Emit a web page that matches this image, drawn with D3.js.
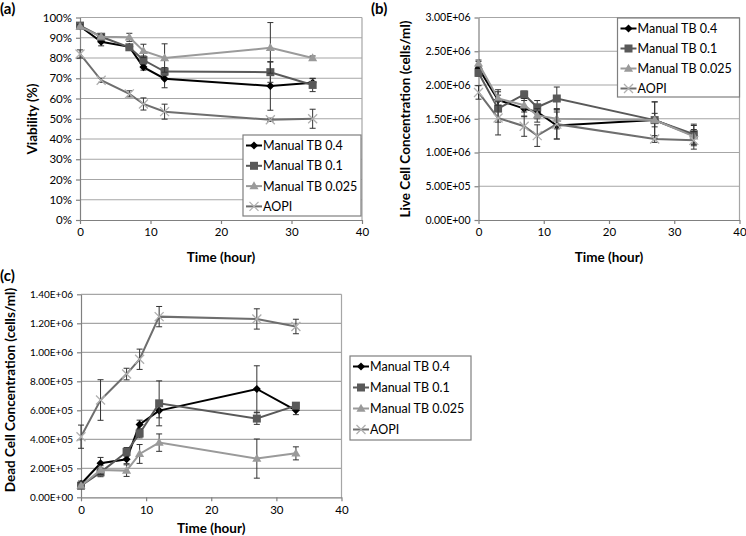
<!DOCTYPE html>
<html><head><meta charset="utf-8">
<script src="https://cdn.jsdelivr.net/npm/d3@7"></script>
<style>body{margin:0;background:#fff}svg text{font-family:Lato,"Liberation Sans",sans-serif}</style>
</head><body><svg id="c" width="746" height="536"></svg>
<script>
const times = [0, 3, 7, 9, 12, 27, 33];
const seriesNames = ["Manual TB 0.4", "Manual TB 0.1", "Manual TB 0.025", "AOPI"];

// (a) viability %
const viabTB04 = [95.7, 88, 85.5, 75.5, 69.8, 66.2, 67.8];
const viabTB01 = [96, 90.5, 85.3, 79, 73.3, 73, 66.7];
const viabTB0025 = [95.5, 90.5, 90.2, 83.5, 80, 85, 80];
const viabAOPI = [82, 69, 62.3, 57.3, 53.5, 49.5, 50];
const viabErrTB04 = [1, 2, 1, 1.5, 4.5, 12, 2];
const viabErrTB01 = [1, 1, 1, 2, 2, 5, 3.3];
const viabErrTB0025 = [1, 1, 2, 3.3, 7, 12.5, 1];
const viabErrAOPI = [2, 1, 1.5, 3, 3.7, 0.8, 4.7];

// (b) live cell concentration
const liveTB04 = [2.25e6, 1.78e6, 1.65e6, 1.6e6, 1.4e6, 1.48e6, 1.25e6];
const liveTB01 = [2.18e6, 1.65e6, 1.86e6, 1.67e6, 1.8e6, 1.48e6, 1.27e6];
const liveTB0025 = [2.32e6, 1.8e6, 1.7e6, 1.55e6, 1.5e6, 1.48e6, 1.24e6];
const liveAOPI = [1.89e6, 1.51e6, 1.39e6, 1.25e6, 1.42e6, 1.2e6, 1.18e6];
const liveErrTB04 = [0.1e6, 0.15e6, 0.12e6, 0.1e6, 0.2e6, 0.27e6, 0.15e6];
const liveErrTB01 = [0.05e6, 0.2e6, 0.05e6, 0.1e6, 0.17e6, 0.27e6, 0.15e6];
const liveErrTB0025 = [0.05e6, 0.1e6, 0.1e6, 0.1e6, 0.15e6, 0.1e6, 0.1e6];
const liveErrAOPI = [0.1e6, 0.25e6, 0.15e6, 0.16e6, 0.22e6, 0.05e6, 0.13e6];

// (c) dead cell concentration
const deadTB04 = [0.092e6, 0.235e6, 0.262e6, 0.502e6, 0.598e6, 0.747e6, 0.6e6];
const deadTB01 = [0.08e6, 0.172e6, 0.313e6, 0.44e6, 0.648e6, 0.543e6, 0.632e6];
const deadTB0025 = [0.08e6, 0.188e6, 0.184e6, 0.299e6, 0.377e6, 0.267e6, 0.303e6];
const deadAOPI = [0.418e6, 0.671e6, 0.85e6, 0.952e6, 1.246e6, 1.23e6, 1.178e6];
const deadErrTB04 = [0.02e6, 0.04e6, 0.03e6, 0.03e6, 0.05e6, 0.16e6, 0.03e6];
const deadErrTB01 = [0.02e6, 0.03e6, 0.03e6, 0.03e6, 0.155e6, 0.04e6, 0.02e6];
const deadErrTB0025 = [0.02e6, 0.03e6, 0.04e6, 0.065e6, 0.06e6, 0.135e6, 0.045e6];
const deadErrAOPI = [0.08e6, 0.14e6, 0.04e6, 0.07e6, 0.07e6, 0.07e6, 0.05e6];

const xTicks = [0, 10, 20, 30, 40];
const viabTicks = [0,10,20,30,40,50,60,70,80,90,100];
const liveTicks = [0, 0.5e6, 1e6, 1.5e6, 2e6, 2.5e6, 3e6];
const deadTicks = [0, 0.2e6, 0.4e6, 0.6e6, 0.8e6, 1e6, 1.2e6, 1.4e6];

const styles = [
  {line:"#000000", marker:"diamond", fill:"#000000"},
  {line:"#595959", marker:"square", fill:"#595959"},
  {line:"#9a9a9a", marker:"triangle", fill:"#9a9a9a"},
  {line:"#6e6e6e", marker:"cross", fill:"#b0b0b0"}
];

const svg = d3.select("#c");

function expFmt(v){
  if (v === 0) return "0.00E+00";
  const e = Math.floor(Math.log10(v));
  const m = v / Math.pow(10, e);
  return m.toFixed(2) + "E+" + String(e).padStart(2, "0");
}

function marker(g, type, x, y, fill){
  if (type === "diamond") {
    g.append("path").attr("d", d3.symbol(d3.symbolDiamond2, 42)()).attr("transform",`translate(${x},${y})`).attr("fill",fill);
  } else if (type === "square") {
    g.append("rect").attr("x",x-4).attr("y",y-4).attr("width",8).attr("height",8).attr("fill",fill);
  } else if (type === "triangle") {
    g.append("path").attr("d", d3.symbol(d3.symbolTriangle, 36)()).attr("transform",`translate(${x},${y+0.5})`).attr("fill",fill);
  } else {
    g.append("path").attr("d",`M${x-4.5},${y-4.5}L${x+4.5},${y+4.5}M${x-4.5},${y+4.5}L${x+4.5},${y-4.5}`).attr("stroke",fill).attr("stroke-width",1.3);
  }
}

function panel(cfg){
  const g = svg.append("g");
  const x = d3.scaleLinear().domain([0,40]).range([cfg.left, cfg.right]);
  const y = d3.scaleLinear().domain([cfg.yTicks[0], cfg.yTicks[cfg.yTicks.length-1]]).range([cfg.bottom, cfg.top]);
  g.selectAll(".grid").data(cfg.yTicks.slice(1)).enter().append("line")
    .attr("x1",cfg.left).attr("x2",cfg.right).attr("y1",d=>y(d)).attr("y2",d=>y(d))
    .attr("stroke","#a6a6a6").attr("stroke-width",1.2);
  g.append("line").attr("x1",cfg.right).attr("x2",cfg.right).attr("y1",cfg.top).attr("y2",cfg.bottom).attr("stroke","#a6a6a6").attr("stroke-width",1.2);
  const xa = g.append("g").attr("transform",`translate(0,${cfg.bottom})`)
    .call(d3.axisBottom(x).tickValues(xTicks).tickSize(4).tickSizeOuter(0));
  const ya = g.append("g").attr("transform",`translate(${cfg.left},0)`)
    .call(d3.axisLeft(y).tickValues(cfg.yTicks).tickFormat(cfg.fmt).tickSize(4).tickSizeOuter(0).tickPadding(4));
  [xa, ya].forEach(a => {
    a.select(".domain").attr("stroke","#808080").attr("stroke-width",1.2);
    a.selectAll(".tick line").attr("stroke","#808080").attr("stroke-width",1.2);
    a.selectAll(".tick text").attr("fill","#000").style("font-size",cfg.tickFont+"px");
  });
  xa.selectAll(".tick text").style("font-size","11.5px").attr("y",cfg.xTickDy).attr("dy","0.35em");
  g.append("text").attr("x",(cfg.left+cfg.right)/2).attr("y",cfg.bottom+cfg.titleDy).attr("dy","0.35em").attr("text-anchor","middle")
    .style("font-size","13.5px").style("font-weight","bold").text("Time (hour)");
  g.append("text").attr("transform",`translate(${cfg.yLabX},${cfg.yLabY}) rotate(-90)`)
    .attr("text-anchor","middle").attr("dy","0.35em").style("font-size","13.5px").style("font-weight","bold").text(cfg.yLabel);
  g.append("text").attr("x",cfg.letterX).attr("y",cfg.letterY).attr("dy","0.35em").style("font-size","15px").style("font-weight","bold").text(cfg.letter);

  const line = d3.line().x((d,i)=>x(times[i])).y(d=>y(d));
  cfg.series.forEach((s, si) => {
    const st = styles[si];
    const sg = g.append("g");
    sg.append("path").attr("d", line(s.v)).attr("fill","none").attr("stroke",st.line).attr("stroke-width",2);
    s.v.forEach((v,i) => {
      const e = s.e[i];
      const cx = x(times[i]);
      sg.append("path").attr("d",`M${cx},${y(v-e)}V${y(v+e)}M${cx-3},${y(v-e)}H${cx+3}M${cx-3},${y(v+e)}H${cx+3}`)
        .attr("stroke","#333").attr("stroke-width",1).attr("fill","none");
    });
    s.v.forEach((v,i) => marker(sg, st.marker, x(times[i]), y(v), st.fill));
  });

  const L = cfg.legend;
  const lg = g.append("g");
  lg.append("rect").attr("x",L.x).attr("y",L.y).attr("width",L.w).attr("height",L.h)
    .attr("fill","#fff").attr("stroke","#7f7f7f").attr("stroke-width",1.2);
  seriesNames.forEach((n,i) => {
    const yy = L.y + 10.5 + i*L.step;
    const st = styles[i];
    lg.append("line").attr("x1",L.x+3).attr("x2",L.x+19).attr("y1",yy).attr("y2",yy).attr("stroke",st.line).attr("stroke-width",2);
    marker(lg, st.marker, L.x+11, yy, st.fill);
    lg.append("text").attr("x",L.x+20).attr("y",yy).attr("dy","0.36em").style("font-size","12.5px").text(n);
  });
}

panel({
  left:80, right:362, top:17.5, bottom:220, yTicks:viabTicks, fmt:d=>d+"%", tickFont:11.5,
  xTickDy:12, titleDy:37, yLabY:119,
  yLabel:"Viability (%)", yLabX:32, letter:"(a)", letterX:0, letterY:9,
  series:[{v:viabTB04,e:viabErrTB04},{v:viabTB01,e:viabErrTB01},{v:viabTB0025,e:viabErrTB0025},{v:viabAOPI,e:viabErrAOPI}],
  legend:{x:243, y:135, w:118, h:81, step:20.3}
});
panel({
  left:478.5, right:739.5, top:17.5, bottom:220, yTicks:liveTicks, fmt:expFmt, tickFont:10.5,
  xTickDy:12, titleDy:37, yLabY:119,
  yLabel:"Live Cell Concentration (cells/ml)", yLabX:405, letter:"(b)", letterX:371, letterY:9,
  series:[{v:liveTB04,e:liveErrTB04},{v:liveTB01,e:liveErrTB01},{v:liveTB0025,e:liveErrTB0025},{v:liveAOPI,e:liveErrAOPI}],
  legend:{x:617.5, y:18, w:122, h:79, step:20}
});
panel({
  left:81, right:341.5, top:294.3, bottom:497.3, yTicks:deadTicks, fmt:expFmt, tickFont:10,
  xTickDy:13, titleDy:31, yLabY:390,
  yLabel:"Dead Cell Concentration (cells/ml)", yLabX:10, letter:"(c)", letterX:0, letterY:276,
  series:[{v:deadTB04,e:deadErrTB04},{v:deadTB01,e:deadErrTB01},{v:deadTB0025,e:deadErrTB0025},{v:deadAOPI,e:deadErrAOPI}],
  legend:{x:350, y:356, w:121, h:84, step:21}
});
</script></body></html>
